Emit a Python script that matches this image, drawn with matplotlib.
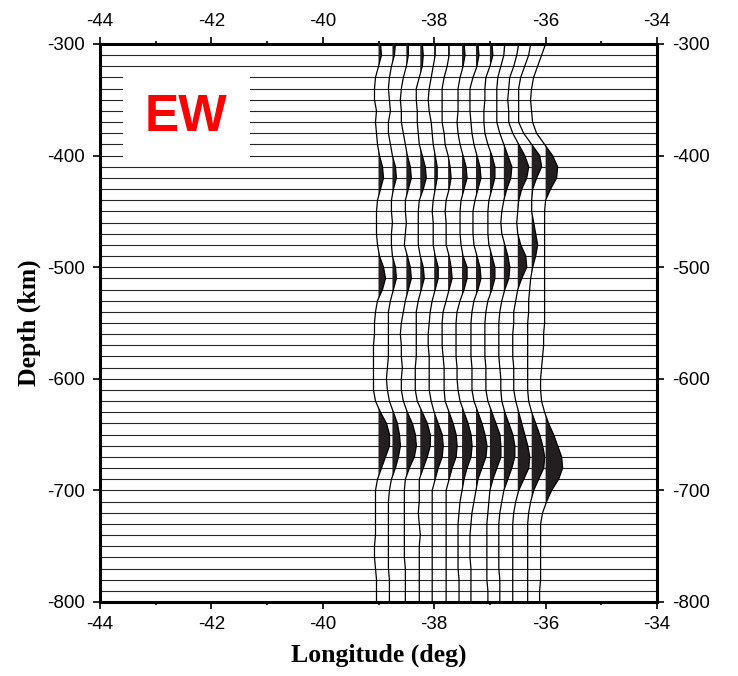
import matplotlib.pyplot as plt
import numpy as np
from matplotlib.patches import Rectangle

plt.rcParams['axes.unicode_minus'] = False

# station longitudes of the stacked traces
lons = [-39.0, -38.75, -38.5, -38.25, -38.0, -37.75, -37.5,
        -37.25, -37.0, -36.75, -36.5, -36.25, -36.0]

# depth samples (km), -300 ... -800 every 10 km
depth = np.arange(-300, -801, -10)

# trace amplitudes (arbitrary units) at each depth sample
tr1 = [2, 3, 0, -3, -4, -4, -2, -3, -2, -1, 1,
       4, 5, 2, -1, -2, -2, -2, -1, 1, 5,
       7, 4, -1, -3, -4, -4, -5, -5, -5, -5,
       -5, -3, 2, 8, 11, 11, 7, 3, -1, -3,
       -3, -3, -3, -3, -4, -4, -3, -2, -2, -2]
tr2 = [3, 2, -1, -3, -4, -3, -2, -4, -4, -2, 0,
       3, 4, 1, -1, -1, 0, -1, -1, 0, 3,
       4, 1, -2, -4, -4, -4, -4, -4, -5, -6,
       -5, -3, 1, 5, 7, 8, 6, 3, -1, -3,
       -4, -4, -4, -4, -4, -4, -4, -3, -3, -3]
tr3 = [2, 2, 0, -3, -5, -6, -5, -5, -3, -1, 1,
       4, 5, 2, -1, -1, 0, -1, -2, 1, 4,
       5, 2, -1, -3, -5, -6, -5, -5, -4, -5,
       -5, -3, 1, 6, 9, 10, 8, 3, -1, -2,
       -2, -2, -2, -2, -2, -2, -1, -1, -1, -1]
tr4 = [2, 3, 2, -1, -4, -4, -3, -3, -2, -1, 2,
       5, 6, 3, -1, -2, -2, -2, -2, 0, 3,
       4, 1, -2, -4, -4, -4, -4, -4, -5, -5,
       -5, -3, 2, 7, 10, 10, 7, 3, -1, -1,
       -1, -2, -1, 0, -1, -1, -1, -1, -1, -1]
tr5 = [1, 1, -1, -3, -5, -6, -5, -3, -2, -1, 1,
       3, 3, 1, -1, -2, -1, -1, -1, 1, 4,
       4, 1, -2, -4, -5, -6, -6, -5, -5, -5,
       -5, -3, 0, 4, 8, 9, 8, 4, 1, -2,
       -2, -2, -2, -2, -2, -2, -2, -2, -2, -2]
tr6 = [1, 1, -1, -4, -6, -6, -6, -6, -4, -3, 0,
       2, 3, 1, -2, -3, -2, -2, -2, 1, 3,
       4, 1, -2, -5, -6, -6, -6, -5, -4, -4,
       -4, -3, 1, 5, 8, 9, 8, 4, 1, -2,
       -2, -2, -2, -2, -2, -2, -2, -2, -2, -2]
tr7 = [2, 3, 1, -2, -4, -4, -4, -5, -4, -2, 1,
       4, 5, 2, -1, -2, -2, -2, -1, 1, 5,
       5, 2, -2, -5, -6, -6, -6, -6, -5, -5,
       -4, -2, 2, 6, 9, 10, 9, 5, 2, 0,
       -2, -3, -4, -4, -4, -4, -4, -3, -3, -3]
tr8 = [2, 3, 1, -3, -6, -6, -6, -5, -4, -2, 1,
       4, 5, 2, -1, -3, -3, -3, -2, 1, 4,
       5, 2, -2, -4, -5, -5, -5, -5, -4, -4,
       -4, -2, 2, 6, 9, 11, 10, 6, 2, 0,
       -2, -4, -5, -6, -6, -6, -5, -5, -5, -5]
tr9 = [2, 3, 0, -4, -5, -5, -6, -6, -5, -2, 2,
       5, 5, 2, -1, -2, -2, -2, -1, 2, 5,
       5, 2, -2, -4, -5, -5, -5, -5, -4, -4,
       -4, -2, 2, 6, 10, 11, 11, 7, 3, 0,
       -1, -2, -3, -3, -3, -3, -3, -3, -2, -2]
tr10 = [1, 0, -3, -6, -7, -7, -7, -7, -4, 0, 4,
        8, 7, 3, 0, -2, -3, -2, 1, 4, 6,
        5, 1, -2, -4, -5, -5, -5, -5, -4, -3,
        -3, -2, 1, 5, 9, 11, 11, 8, 4, 0,
        -2, -4, -5, -5, -5, -5, -5, -4, -4, -4]
tr11 = [1, -1, -4, -8, -9, -10, -9, -9, -5, 1, 7,
        11, 9, 4, 1, 0, -1, 0, 3, 8, 9,
        4, 0, -2, -4, -4, -5, -5, -5, -4, -4,
        -4, -2, 1, 4, 7, 10, 12, 11, 6, 1,
        -2, -4, -5, -5, -5, -5, -5, -5, -5, -5]
tr12 = [-1, -3, -7, -11, -13, -13, -13, -13, -8, 0, 8,
        10, 5, 1, 0, 0, 2, 4, 6, 4, 1,
        -1, -2, -3, -3, -4, -4, -4, -4, -4, -4,
        -4, -3, 0, 4, 8, 11, 13, 12, 7, 2,
        -1, -3, -4, -4, -4, -4, -4, -4, -4, -4]
tr13 = [0, -4, -8, -12, -14, -15, -14, -13, -9, -1, 7,
        12, 11, 5, 0, -1, -1, -1, -1, -1, -1,
        -1, -1, -1, -1, -1, -2, -2, -3, -4, -5,
        -5, -4, -1, 3, 8, 12, 16, 17, 13, 6,
        1, -3, -5, -5, -5, -5, -5, -5, -6, -6]
traces = [tr1, tr2, tr3, tr4, tr5, tr6, tr7, tr8, tr9, tr10, tr11, tr12, tr13]

amp_scale = 0.018  # degrees of longitude per amplitude unit

# horizontal depth lines
line_depths = np.arange(-310, -791, -10)

fig = plt.figure(figsize=(7.38, 6.76), dpi=100)
ax = fig.add_axes([100 / 738, 1 - 602 / 676, 557 / 738, 558 / 676])

ax.hlines(line_depths, -44, -34, color='0.15', lw=0.8, zorder=1)

# label box hides the lines behind it
ax.add_patch(Rectangle((-43.59, -405), 2.28, 80, facecolor='white',
                       edgecolor='none', zorder=2))
ax.text(-42.45, -366, 'EW', color='#ff0000', fontsize=37, fontweight='bold',
        family='Liberation Sans', ha='center', va='center', zorder=3)

for lon, tr in zip(lons, traces):
    a = np.array(tr, dtype=float)
    x = lon + a * amp_scale
    ax.fill_betweenx(depth, lon, x, where=a > 0, interpolate=True,
                     color='#231f20', lw=0, zorder=3)
    ax.plot(x, depth, color='black', lw=0.9, zorder=4)

ax.set_xlim(-44, -34)
ax.set_ylim(-800, -300)
ax.set_xticks(np.arange(-44, -33, 2))
ax.set_xticks(np.arange(-43, -34, 2), minor=True)
ax.set_yticks(np.arange(-800, -299, 100))
ax.set_xticklabels([str(v) for v in range(-44, -33, 2)])
ax.set_yticklabels([str(v) for v in range(-800, -299, 100)])

ax.tick_params(which='both', direction='out', top=True, right=True,
               labeltop=True, labelright=True, width=1.2, labelsize=13.5,
               labelfontfamily='Liberation Sans')
ax.tick_params(which='major', length=5)
ax.tick_params(axis='x', which='major', pad=5)
ax.tick_params(axis='y', which='major', pad=6)
ax.tick_params(which='minor', length=2.5)
for s in ax.spines.values():
    s.set_linewidth(2.2)

ax.set_xlabel('Longitude (deg)', fontsize=18.5, fontweight='bold',
              family='Liberation Serif', labelpad=8)
ax.set_ylabel('Depth (km)', fontsize=18.5, fontweight='bold',
              family='Liberation Serif', labelpad=4)

# the original picture is cut just right of the right-hand labels
fig.add_artist(Rectangle((713 / 738, 0), 1, 1, transform=fig.transFigure,
                         facecolor='white', edgecolor='none', zorder=10))

fig.savefig('out.png', dpi=100)
